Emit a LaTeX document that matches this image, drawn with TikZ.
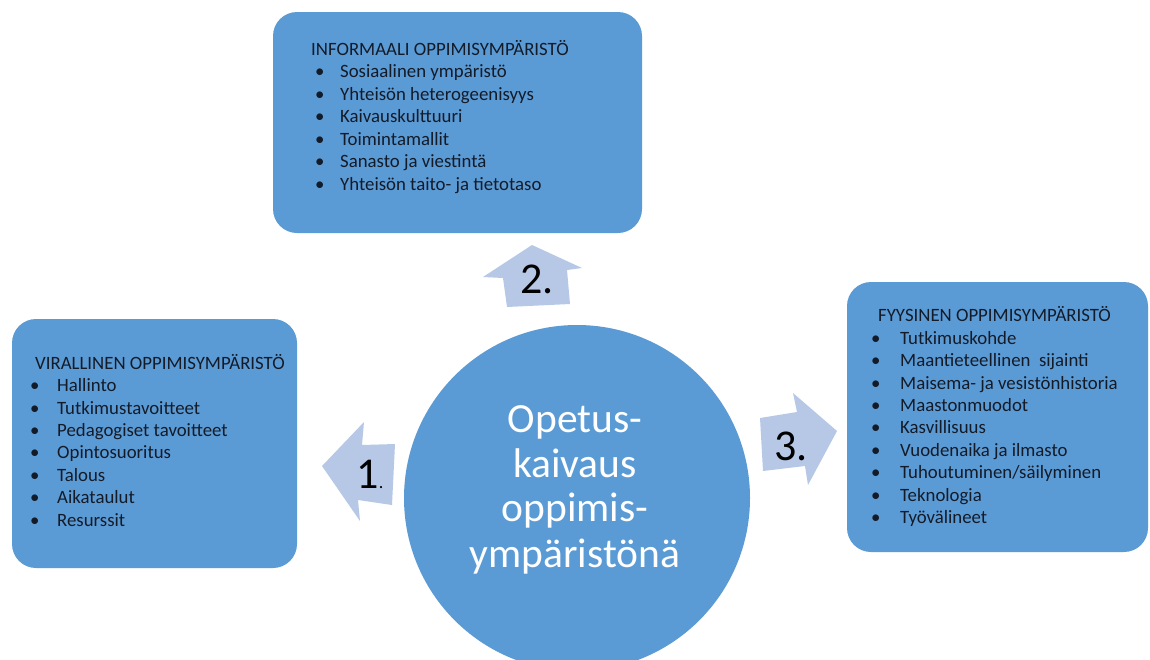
\documentclass[tikz,border=0pt]{standalone}
\usepackage{fontspec}
\setmainfont{Carlito}
\definecolor{boxblue}{RGB}{91,155,213}
\definecolor{arrowblue}{RGB}{182,200,230}
\definecolor{txtdark}{RGB}{20,27,40}
\begin{document}
\begin{tikzpicture}[x=1pt,y=-1pt,
  panel/.style={fill=boxblue, draw=none, rounded corners=24pt, inner sep=0pt},
  boxtext/.style={anchor=base west, inner sep=0pt, font=\fontsize{18.8}{22}\selectfont, text=txtdark},
  blockarrow/.style={fill=arrowblue, draw=none},
  num/.style={anchor=base, inner sep=0pt, font=\fontsize{44}{50}\selectfont, text=black},
  circtext/.style={anchor=base, inner sep=0pt, font=\fontsize{41.5}{45}\selectfont, text=white}
]
\useasboundingbox (0,0) rectangle (1150,659);
\fill[white] (0,0) rectangle (1150,659);
\clip (0,0) rectangle (1150,659);

% panels
\node (top)   [panel, minimum width=369pt, minimum height=221pt] at (457.5,122.5) {};
\node (left)  [panel, minimum width=285pt, minimum height=249pt] at (154.5,443.5) {};
\node (right) [panel, minimum width=301pt, minimum height=270pt] at (997.5,417) {};

% central circle
\node (hub) [circle, fill=boxblue, draw=none, minimum size=346pt, inner sep=0pt] at (577,498) {};
\node (c1) [circtext] at (575,432) {Opetus-};
\node (c2) [circtext] at (575,477) {kaivaus};
\node (c3) [circtext] at (575,521) {oppimis-};
\node (c4) [circtext] at (575,567) {ympäristönä};

% block arrows
\fill[blockarrow] (322,466) -- (364,422) -- (362,445) -- (395,444) -- (392,505) -- (358,500) -- (360,521) -- cycle;
\node (n1) [num] at (370,488) {1\fontsize{18}{20}\selectfont.};
\fill[blockarrow] (532,245) -- (582,268) -- (567,270) -- (570,304) -- (507,307) -- (503,278) -- (483,277) -- cycle;
\node (n2) [num] at (537,293) {2.};
\fill[blockarrow] (837,431) -- (808,485) -- (805,466) -- (763,471) -- (760,418) -- (797,412) -- (793,393) -- cycle;
\node (n3) [num] at (791,460) {3.};

% top panel text
\node (toph) [boxtext] at (311,55) {INFORMAALI OPPIMISYMPÄRISTÖ};
\foreach \t [count=\i] in {Sosiaalinen ympäristö, Yhteisön heterogeenisyys, Kaivauskulttuuri, Toimintamallit, Sanasto ja viestintä, Yhteisön taito- ja tietotaso}{
  \node (topb-\i) [boxtext] at (315,55+22.5*\i) {\textbullet};
  \node (topi-\i) [boxtext] at (340,55+22.5*\i) {\t};
}

% left panel text
\node (lefth) [boxtext] at (35,369.3) {VIRALLINEN OPPIMISYMPÄRISTÖ};
\foreach \t [count=\i] in {Hallinto, Tutkimustavoitteet, Pedagogiset tavoitteet, Opintosuoritus, Talous, Aikataulut, Resurssit}{
  \node (leftb-\i) [boxtext] at (30,369.3+22.4*\i) {\textbullet};
  \node (lefti-\i) [boxtext] at (57,369.3+22.4*\i) {\t};
}

% right panel text
\node (righth) [boxtext] at (878,321.7) {FYYSINEN OPPIMISYMPÄRISTÖ};
\foreach \t [count=\i] in {Tutkimuskohde, Maantieteellinen\ \ sijainti, Maisema- ja vesistönhistoria, Maastonmuodot, Kasvillisuus, Vuodenaika ja ilmasto, Tuhoutuminen/säilyminen, Teknologia, Työvälineet}{
  \node (rightb-\i) [boxtext] at (871,321.7+22.45*\i) {\textbullet};
  \node (righti-\i) [boxtext] at (900,321.7+22.45*\i) {\t};
}
\end{tikzpicture}
\end{document}
